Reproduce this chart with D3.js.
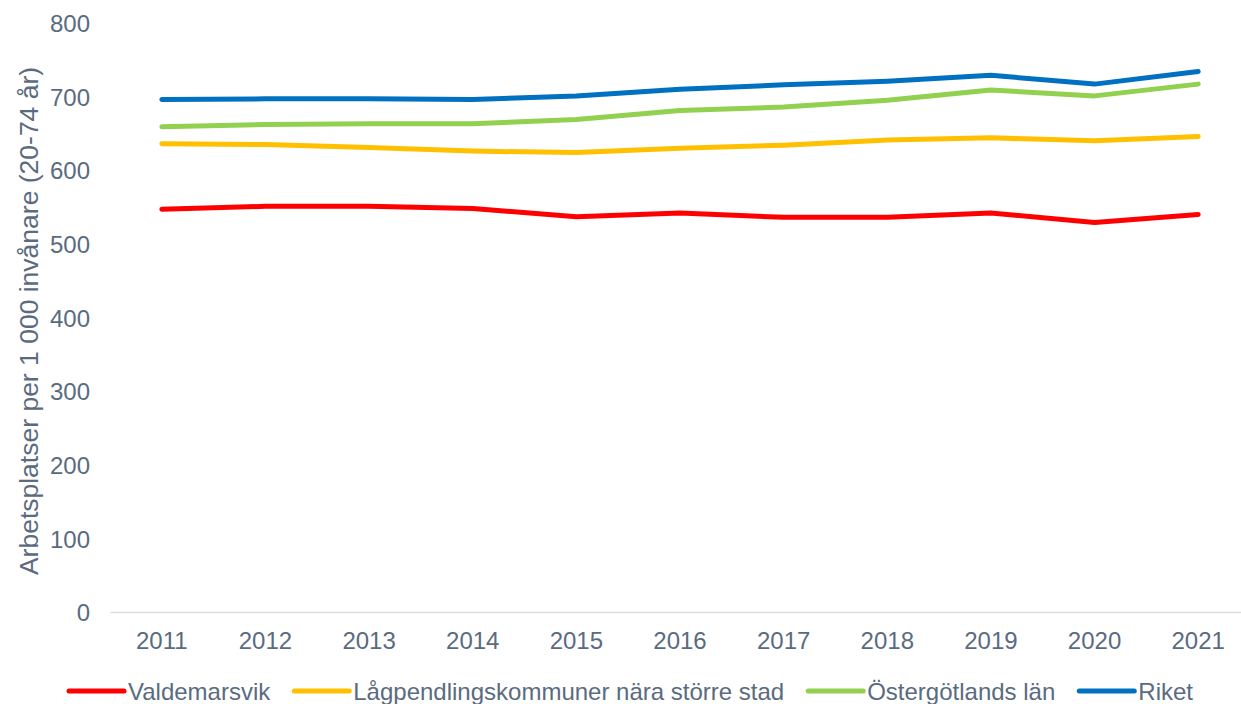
<!DOCTYPE html>
<html>
<head>
<meta charset="utf-8">
<script src="https://cdn.jsdelivr.net/npm/d3@7"></script>
<style>
  body { margin: 0; background: #fff; }
  svg text { font-family: "Liberation Sans", Arial, sans-serif; fill: #5A6B80; }
</style>
</head>
<body>
<svg id="chart" width="1241" height="704"></svg>
<script>
// data
const years = ['2011', '2012', '2013', '2014', '2015', '2016', '2017', '2018', '2019', '2020', '2021'];
const valdemarsvik = [547, 551, 551, 548, 537, 542, 536, 536, 542, 529, 540];
const lagpendling = [636, 635, 631, 626, 624, 630, 634, 641, 644, 640, 646];
const ostergotland = [659, 662, 663, 663, 669, 681, 686, 695, 709, 701, 717];
const riket = [696, 697, 697, 696, 701, 710, 716, 721, 729, 717, 734];
const yTicks = [0, 100, 200, 300, 400, 500, 600, 700, 800];

const seriesNames = ['Valdemarsvik', 'Lågpendlingskommuner nära större stad', 'Östergötlands län', 'Riket'];
const seriesColors = ['#FF0000', '#FFC000', '#92D050', '#0070C0'];
const series = [valdemarsvik, lagpendling, ostergotland, riket].map((vals, i) => ({
    name: seriesNames[i],
    color: seriesColors[i],
    values: vals,
}));

const FONT = 24;
const TITLE_FONT = 26.5;
const svg = d3.select('#chart');

const x = d3.scaleBand().domain(years).range([110, 1250]);
const y = d3.scaleLinear().domain([0, 800]).range([612, 23]);

// y tick labels (no axis line)
const yAxis = svg.append('g')
    .attr('transform', 'translate(90,0)')
    .call(d3.axisLeft(y).tickValues(yTicks).tickSize(0).tickPadding(0));
yAxis.select('.domain').remove();
yAxis.selectAll('text')
    .attr('font-size', FONT)
    .attr('dy', '0.36em')
    .style('font-family', null);

// x axis
const xAxis = svg.append('g')
    .attr('transform', 'translate(0,612)')
    .call(d3.axisBottom(x).tickSize(0).tickPadding(0));
xAxis.select('.domain')
    .attr('stroke', '#D9DDE3')
    .attr('stroke-width', 1.5);
xAxis.selectAll('text')
    .attr('font-size', FONT)
    .attr('y', 37)
    .attr('dy', 0)
    .style('font-family', null);

// y title
svg.append('text')
    .attr('transform', 'translate(38,321) rotate(-90)')
    .attr('text-anchor', 'middle')
    .attr('font-size', TITLE_FONT)
    .text('Arbetsplatser per 1 000 invånare (20-74 år)');

// lines
const line = d3.line()
    .x((d, i) => x(years[i]) + x.bandwidth() / 2)
    .y(d => y(d));

svg.append('g').selectAll('path')
    .data(series)
    .join('path')
    .attr('d', d => line(d.values))
    .attr('fill', 'none')
    .attr('stroke', d => d.color)
    .attr('stroke-width', 5)
    .attr('stroke-linecap', 'round')
    .attr('stroke-linejoin', 'round');

// legend
const legend = svg.append('g').attr('transform', 'translate(0,691)');
let lx = 69;
series.forEach(s => {
    const item = legend.append('g').attr('transform', `translate(${lx},0)`);
    item.append('line')
        .attr('x1', 0).attr('x2', 55)
        .attr('y1', 0).attr('y2', 0)
        .attr('stroke', s.color)
        .attr('stroke-width', 5)
        .attr('stroke-linecap', 'round');
    const t = item.append('text')
        .attr('x', 59)
        .attr('y', 9)
        .attr('font-size', FONT)
        .text(s.name);
    lx += 59 + t.node().getComputedTextLength() + 24;
});
</script>
</body>
</html>
